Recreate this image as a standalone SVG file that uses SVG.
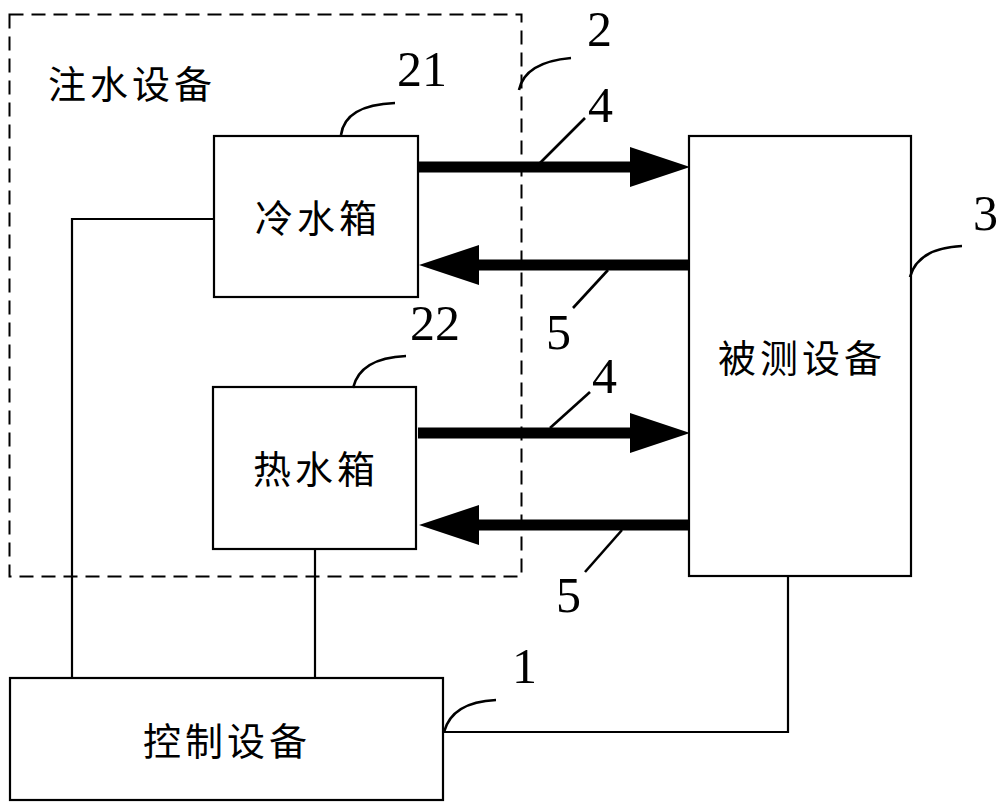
<svg xmlns="http://www.w3.org/2000/svg" width="1000" height="807" viewBox="0 0 1000 807">
<style>
.box{fill:#fff;stroke:#000;stroke-width:2.2}
.dash{fill:none;stroke:#000;stroke-width:2;stroke-dasharray:14 8}
.wire{fill:none;stroke:#000;stroke-width:2.2}
.lead{fill:none;stroke:#000;stroke-width:2.6}
.pipe{fill:none;stroke:#000;stroke-width:11}
.cn{font-family:"Noto Sans CJK SC","Noto Sans CJK JP",sans-serif;font-size:38px;letter-spacing:4px;dominant-baseline:central;text-anchor:middle;fill:#000}
.num{font-family:"Liberation Serif","Times New Roman",serif;font-size:50px;fill:#000}
</style>
<defs>
<marker id="ah" markerUnits="userSpaceOnUse" markerWidth="60" markerHeight="40" refX="0" refY="20" orient="auto" overflow="visible">
<path d="M0,0 L60,20 L0,40 Z" fill="#000"/>
</marker>
</defs>
<rect width="1000" height="807" fill="#fff"/>
<g id="inject-group">
<rect class="dash" x="9.5" y="14.5" width="512" height="562"/>
<text class="cn" x="132" y="81">注水设备</text>
</g>
<g id="connectors">
<polyline class="wire" points="214,219 72,219 72,678"/>
<line class="wire" x1="315" y1="549" x2="315" y2="678"/>
<polyline class="wire" points="443,732 788,732 788,576"/>
<line class="pipe" x1="418" y1="167" x2="630" y2="167" marker-end="url(#ah)"/>
<line class="pipe" x1="689" y1="265" x2="479" y2="265" marker-end="url(#ah)"/>
<line class="pipe" x1="418" y1="433" x2="630" y2="433" marker-end="url(#ah)"/>
<line class="pipe" x1="689" y1="525" x2="479" y2="525" marker-end="url(#ah)"/>
</g>
<g id="cold-tank">
<rect class="box" x="214" y="136" width="204" height="161"/>
<text class="cn" x="318" y="215">冷水箱</text>
</g>
<g id="hot-tank">
<rect class="box" x="213" y="387" width="203" height="162"/>
<text class="cn" x="316" y="466">热水箱</text>
</g>
<g id="dut">
<rect class="box" x="689" y="136" width="222" height="440"/>
<text class="cn" x="802" y="355">被测设备</text>
</g>
<g id="controller">
<rect class="box" x="10" y="678" width="433" height="122"/>
<text class="cn" x="227" y="738">控制设备</text>
</g>
<g id="labels">
<path class="lead" d="M341,135 Q345,105 395,103"/>
<text class="num" x="397" y="86">21</text>
<path class="lead" d="M519,90 Q525,62 571,58"/>
<text class="num" x="587" y="46">2</text>
<line class="lead" x1="540" y1="163" x2="585" y2="118"/>
<text class="num" x="588" y="122">4</text>
<line class="lead" x1="608" y1="270" x2="573" y2="308"/>
<text class="num" x="546" y="349">5</text>
<path class="lead" d="M910,277 Q918,248 962,246"/>
<text class="num" x="973" y="230">3</text>
<path class="lead" d="M353,388 Q360,358 406,356"/>
<text class="num" x="410" y="340">22</text>
<line class="lead" x1="550" y1="428" x2="590" y2="392"/>
<text class="num" x="592" y="393">4</text>
<line class="lead" x1="622" y1="530" x2="585" y2="572"/>
<text class="num" x="556" y="612">5</text>
<path class="lead" d="M444,732 Q452,702 496,700"/>
<text class="num" x="512" y="683">1</text>
</g>
</svg>
